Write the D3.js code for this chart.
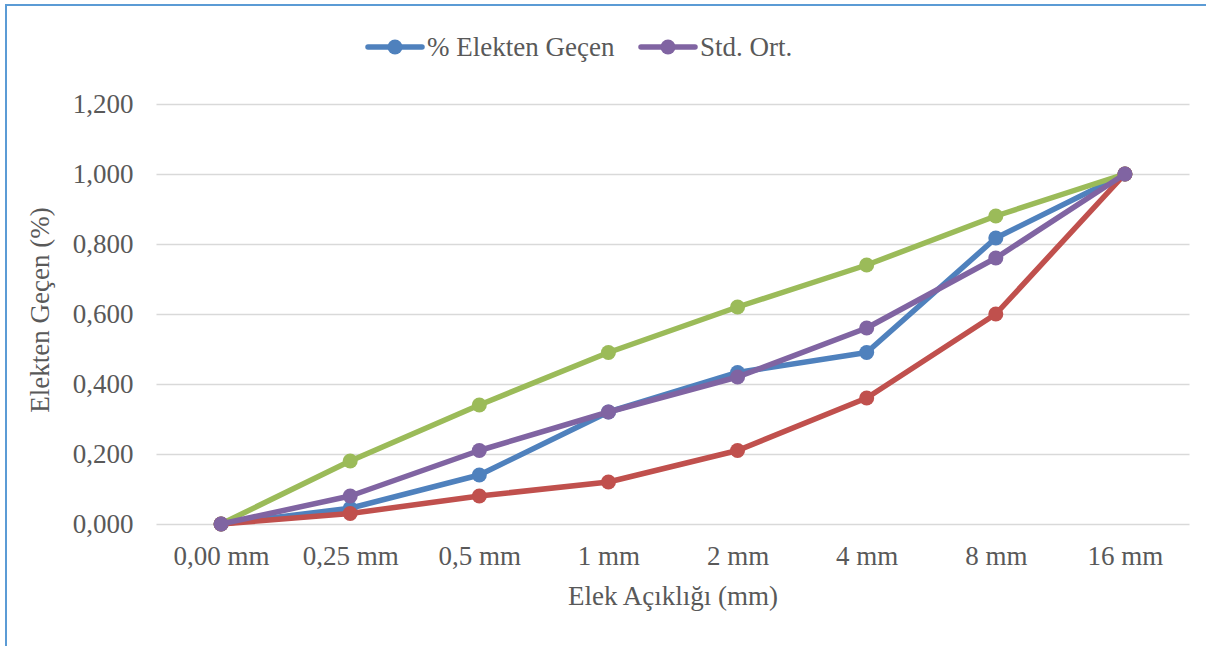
<!DOCTYPE html>
<html>
<head>
<meta charset="utf-8">
<script src="https://cdn.jsdelivr.net/npm/d3@7"></script>
<style>
  html, body { margin: 0; padding: 0; background: #fff; }
  svg { display: block; }
  text { font-family: "Liberation Serif", "Times New Roman", serif; fill: #595959; }
</style>
</head>
<body>
<svg id="chart" width="1206" height="646"></svg>
<script>
// Sieve openings (x categories)
const categories = ["0,00 mm", "0,25 mm", "0,5 mm", "1 mm", "2 mm", "4 mm", "8 mm", "16 mm"];
// Passing fraction for the sample
const passing = [0, 0.045, 0.14, 0.32, 0.433, 0.49, 0.817, 1.0];
// Standard average curve
const stdAvg = [0, 0.08, 0.21, 0.32, 0.42, 0.56, 0.76, 1.0];
// Upper limit curve
const upperLimit = [0, 0.18, 0.34, 0.49, 0.62, 0.74, 0.88, 1.0];
// Lower limit curve
const lowerLimit = [0, 0.03, 0.08, 0.12, 0.21, 0.36, 0.60, 1.0];
// Y tick values
const yTicks = [0, 0.2, 0.4, 0.6, 0.8, 1.0, 1.2];

const series = [
  { name: "% Elekten Geçen", values: passing, color: "#4F81BD", legend: true },
  { name: "Üst Sınır", values: upperLimit, color: "#9BBB59", legend: false },
  { name: "Alt Sınır", values: lowerLimit, color: "#C0504D", legend: false },
  { name: "Std. Ort.", values: stdAvg, color: "#8064A2", legend: true }
];

const W = 1206, H = 646;
const FONT = "27px";
const svg = d3.select("#chart");

// Outer frame (left and top edges)
svg.append("path")
  .attr("d", `M6,${H} L6,5 L${W},5`)
  .attr("fill", "none")
  .attr("stroke", "#5B9BD5")
  .attr("stroke-width", 2);

const plot = { left: 156.5, right: 1189.5, top: 104, bottom: 524 };

const x = d3.scalePoint()
  .domain(categories)
  .range([plot.left, plot.right])
  .padding(0.5);

const y = d3.scaleLinear()
  .domain([0, 1.2])
  .range([plot.bottom, plot.top]);

const fmt = v => d3.format(".3f")(v).replace(".", ",");

// Horizontal gridlines
svg.append("g")
  .selectAll("line")
  .data(yTicks)
  .join("line")
  .attr("x1", plot.left)
  .attr("x2", plot.right)
  .attr("y1", d => Math.round(y(d)) + 0.5)
  .attr("y2", d => Math.round(y(d)) + 0.5)
  .attr("stroke", "#D9D9D9")
  .attr("stroke-width", 1.5);

// Y axis labels
const yAxis = svg.append("g")
  .attr("transform", `translate(${plot.left},0)`)
  .call(d3.axisLeft(y).tickValues(yTicks).tickFormat(fmt).tickSize(0).tickPadding(23));
yAxis.select(".domain").remove();
yAxis.selectAll("text")
  .style("font-family", '"Liberation Serif", serif')
  .style("font-size", FONT)
  .attr("fill", "#595959");

// X axis labels
const xAxis = svg.append("g")
  .attr("transform", `translate(0,${plot.bottom})`)
  .call(d3.axisBottom(x).tickSize(0).tickPadding(22));
xAxis.select(".domain").remove();
xAxis.selectAll("text")
  .style("font-family", '"Liberation Serif", serif')
  .style("font-size", FONT)
  .attr("fill", "#595959");

// Axis titles
svg.append("text")
  .attr("x", 673)
  .attr("y", 605)
  .attr("text-anchor", "middle")
  .style("font-size", FONT)
  .text("Elek Açıklığı (mm)");

svg.append("text")
  .attr("transform", `translate(49,310) rotate(-90)`)
  .attr("text-anchor", "middle")
  .style("font-size", FONT)
  .text("Elekten Geçen (%)");

// Series lines and markers
const line = d3.line()
  .x((d, i) => x(categories[i]))
  .y(d => y(d));

series.forEach(s => {
  const g = svg.append("g");
  g.append("path")
    .datum(s.values)
    .attr("d", line)
    .attr("fill", "none")
    .attr("stroke", s.color)
    .attr("stroke-width", 5.5)
    .attr("stroke-linejoin", "round")
    .attr("stroke-linecap", "round");
  g.selectAll("circle")
    .data(s.values)
    .join("circle")
    .attr("cx", (d, i) => x(categories[i]))
    .attr("cy", d => y(d))
    .attr("r", 7.5)
    .attr("fill", s.color);
});

// Legend
const legendItems = series.filter(s => s.legend);
const legendPos = [368, 641];
legendItems.forEach((s, i) => {
  const g = svg.append("g").attr("transform", `translate(${legendPos[i]},47)`);
  g.append("line")
    .attr("x1", 0).attr("x2", 54)
    .attr("y1", 0).attr("y2", 0)
    .attr("stroke", s.color)
    .attr("stroke-width", 5.5)
    .attr("stroke-linecap", "round");
  g.append("circle")
    .attr("cx", 27).attr("cy", 0).attr("r", 7.5)
    .attr("fill", s.color);
  g.append("text")
    .attr("x", 59)
    .attr("y", 9)
    .style("font-size", FONT)
    .text(s.name);
});
</script>
</body>
</html>
